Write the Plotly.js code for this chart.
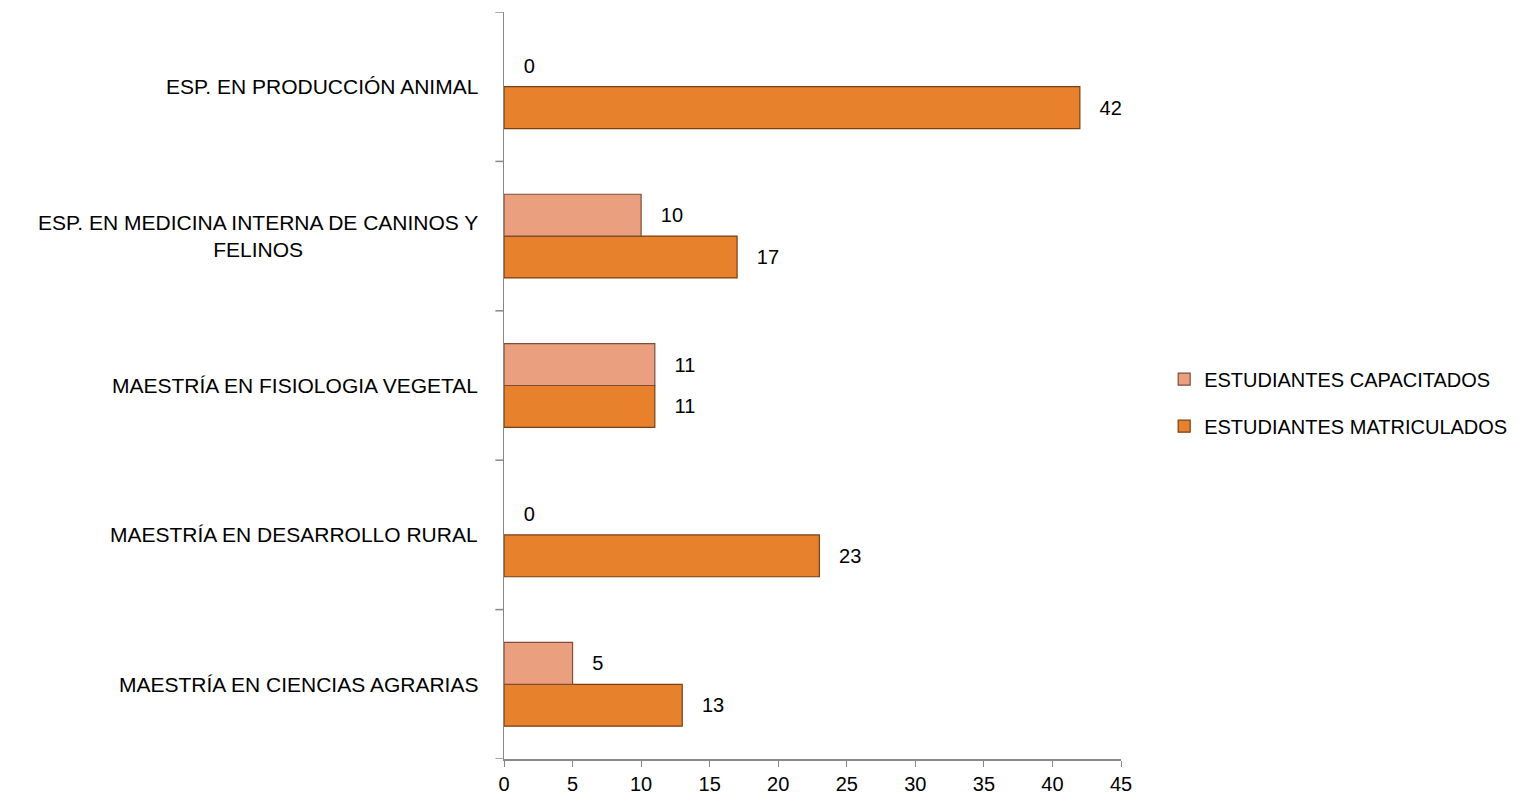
<!DOCTYPE html>
<html>
<head>
<meta charset="utf-8">
<script src="https://cdn.plot.ly/plotly-3.0.1.min.js"></script>
<style>html,body{margin:0;padding:0;background:#fff;}#chart{width:1532px;height:805px;}</style>
</head>
<body>
<div id="chart"></div>
<script>
const categories = [
  "MAESTRÍA EN CIENCIAS AGRARIAS",
  "MAESTRÍA EN DESARROLLO RURAL",
  "MAESTRÍA EN FISIOLOGIA VEGETAL",
  "ESP. EN MEDICINA INTERNA DE CANINOS Y<br>FELINOS",
  "ESP. EN PRODUCCIÓN ANIMAL"
];
const capacitados = [5, 0, 11, 10, 0];
const matriculados = [13, 23, 11, 17, 42];
const seriesNames = ["ESTUDIANTES CAPACITADOS", "ESTUDIANTES MATRICULADOS"];
const xTicks = [0, 5, 10, 15, 20, 25, 30, 35, 40, 45];

const FONT = "'Liberation Sans', Arial, sans-serif";
const catIdx = categories.map((c, i) => i);

const traceMat = {
  type: 'bar', orientation: 'h', name: seriesNames[1],
  y: catIdx, x: matriculados,
  marker: {color: '#E8812B', line: {color: '#7a3f12', width: matriculados.map(v => v > 0 ? 1.2 : 0)}},
  text: matriculados.map(v => '   ' + v), textposition: 'outside',
  textfont: {family: FONT, size: 20, color: '#000'},
  cliponaxis: false, legendgroup: 'b', legendrank: 2, hoverinfo: 'x'
};
const traceCap = {
  type: 'bar', orientation: 'h', name: seriesNames[0],
  y: catIdx, x: capacitados,
  marker: {color: '#EAA07E', line: {color: '#7d4d36', width: capacitados.map(v => v > 0 ? 1.2 : 0)}},
  text: capacitados.map(v => '   ' + v), textposition: 'outside',
  textfont: {family: FONT, size: 20, color: '#000'},
  cliponaxis: false, legendgroup: 'a', legendrank: 1, hoverinfo: 'x'
};

const annotations = categories.map((c, i) => ({
  text: c, x: 0, xref: 'paper', xanchor: 'right', xshift: -24,
  y: i, yref: 'y', yanchor: 'middle', align: 'center', showarrow: false,
  font: {family: FONT, size: 21, color: '#000'}
}));

const boundaries = [];
for (let i = 0; i <= categories.length; i++) boundaries.push(i - 0.5);
const shapes = boundaries.map(b => ({
  type: 'line', xref: 'paper', yref: 'y', x0: -0.014, x1: 0, y0: b, y1: b,
  line: {color: '#888', width: 1.5}
}));

const layout = {
  width: 1532, height: 805,
  margin: {l: 504, r: 411, t: 12, b: 46},
  paper_bgcolor: '#fff', plot_bgcolor: '#fff',
  barmode: 'group', bargap: 0.44, bargroupgap: 0,
  showlegend: true,
  legend: {x: 1.07, y: 0.477, xanchor: 'left', yanchor: 'middle',
    traceorder: 'grouped', tracegroupgap: 18,
    font: {family: FONT, size: 20, color: '#000'}, itemwidth: 30},
  xaxis: {range: [0, 45], tickvals: xTicks, ticks: 'outside', ticklen: 6,
    tickcolor: '#888', showline: true, linecolor: '#888', linewidth: 1.5,
    showgrid: false, zeroline: false,
    tickfont: {family: FONT, size: 20, color: '#000'}},
  yaxis: {range: [-0.5, 4.5], showticklabels: false, ticks: '', showgrid: false,
    zeroline: false, showline: true, linecolor: '#888', linewidth: 1.5},
  shapes: shapes,
  annotations: annotations
};

Plotly.newPlot('chart', [traceMat, traceCap], layout, {displayModeBar: false, staticPlot: true});
</script>
</body>
</html>
